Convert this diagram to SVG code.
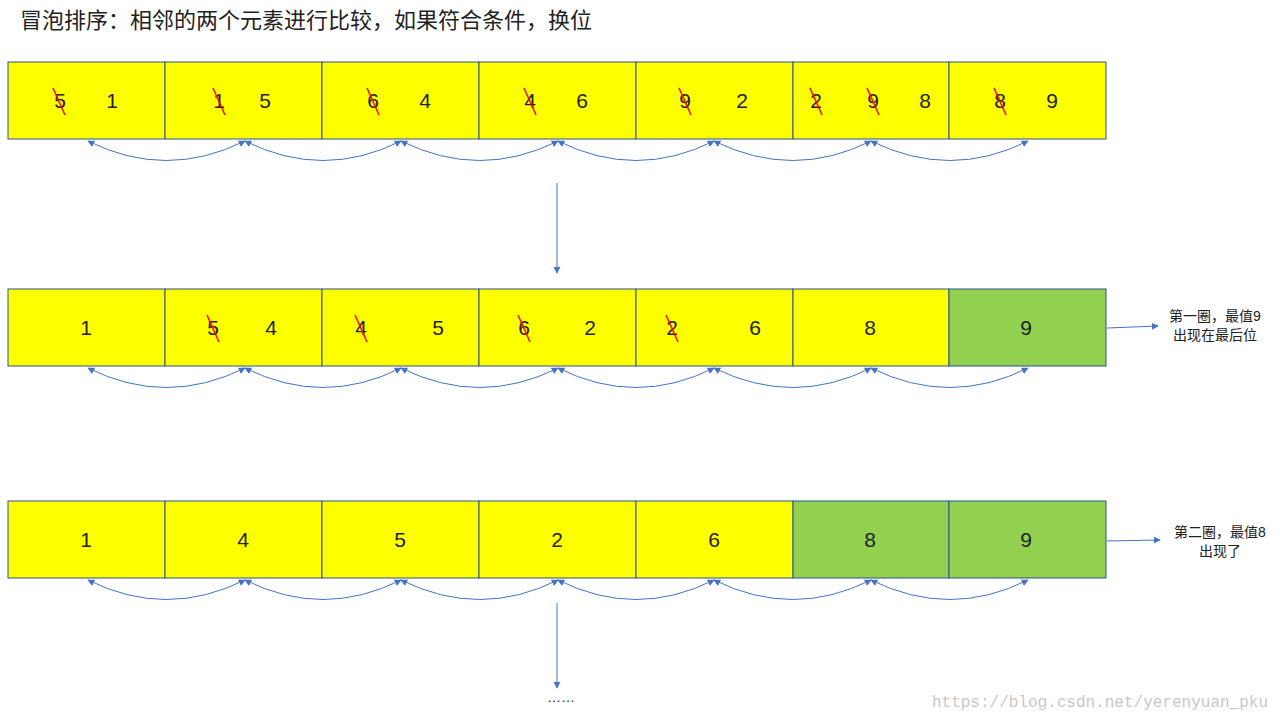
<svg xmlns="http://www.w3.org/2000/svg" width="1280" height="720" viewBox="0 0 1280 720">
<style>
.c{fill:#ffff00;stroke:#2f528f;stroke-width:1}
.g{fill:#92d050;stroke:#2f528f;stroke-width:1}
.t{font-family:"Liberation Sans","Noto Sans CJK SC",sans-serif;font-size:21px;fill:#222;text-anchor:middle}
.s{stroke:#ff0000;stroke-width:1.5}
.a{fill:none;stroke:#4472c4;stroke-width:1;marker-start:url(#h);marker-end:url(#h)}
.l{fill:none;stroke:#4472c4;stroke-width:1;marker-end:url(#h)}
.n{font-family:"Liberation Sans","Noto Sans CJK SC",sans-serif;font-size:14px;fill:#222;text-anchor:middle}
</style>
<defs>
<marker id="h" viewBox="0 0 10 10" refX="9" refY="5" markerWidth="7" markerHeight="7" orient="auto-start-reverse" markerUnits="userSpaceOnUse"><path d="M0,0L10,5L0,10z" fill="#4472c4"/></marker>
<g id="arcs">
<path class="a" d="M88,141 Q166,180 245,141"/><path class="a" d="M245,141 Q323,180 401,141"/><path class="a" d="M401,141 Q480,180 558,141"/><path class="a" d="M558,141 Q636,180 714,141"/><path class="a" d="M714,141 Q793,180 871,141"/><path class="a" d="M871,141 Q950,180 1028,141"/>
</g>
</defs>
<rect width="1280" height="720" fill="#fff"/>
<text x="20" y="28" font-family="'Liberation Sans','Noto Sans CJK SC',sans-serif" font-size="22" fill="#222">冒泡排序：相邻的两个元素进行比较，如果符合条件，换位</text>
<g id="row1">
<rect class="c" x="8" y="62" width="157" height="77"/><rect class="c" x="165" y="62" width="157" height="77"/><rect class="c" x="322" y="62" width="157" height="77"/><rect class="c" x="479" y="62" width="157" height="77"/><rect class="c" x="636" y="62" width="157" height="77"/><rect class="c" x="793" y="62" width="156" height="77"/><rect class="c" x="949" y="62" width="157" height="77"/>
<g class="t"><text x="60" y="108">5</text><text x="112" y="108">1</text><text x="219" y="108">1</text><text x="265" y="108">5</text><text x="373" y="108">6</text><text x="425" y="108">4</text><text x="530" y="108">4</text><text x="582" y="108">6</text><text x="685" y="108">9</text><text x="742" y="108">2</text><text x="816" y="108">2</text><text x="873" y="108">9</text><text x="925" y="108">8</text><text x="1000" y="108">8</text><text x="1052" y="108">9</text></g>
<g class="s"><line x1="53" y1="88" x2="65" y2="115"/><line x1="213" y1="88" x2="225" y2="115"/><line x1="367" y1="88" x2="379" y2="115"/><line x1="524" y1="88" x2="536" y2="115"/><line x1="679" y1="88" x2="691" y2="115"/><line x1="810" y1="88" x2="822" y2="115"/><line x1="867" y1="88" x2="879" y2="115"/><line x1="994" y1="88" x2="1006" y2="115"/></g>
</g>
<g id="row2">
<rect class="c" x="8" y="289" width="157" height="77"/><rect class="c" x="165" y="289" width="157" height="77"/><rect class="c" x="322" y="289" width="157" height="77"/><rect class="c" x="479" y="289" width="157" height="77"/><rect class="c" x="636" y="289" width="157" height="77"/><rect class="c" x="793" y="289" width="156" height="77"/><rect class="g" x="949" y="289" width="157" height="77"/>
<g class="t"><text x="86" y="335">1</text><text x="213" y="335">5</text><text x="271" y="335">4</text><text x="361" y="335">4</text><text x="438" y="335">5</text><text x="524" y="335">6</text><text x="590" y="335">2</text><text x="672" y="335">2</text><text x="755" y="335">6</text><text x="870" y="335">8</text><text x="1026" y="335">9</text></g>
<g class="s"><line x1="207" y1="315" x2="219" y2="342"/><line x1="355" y1="315" x2="367" y2="342"/><line x1="518" y1="315" x2="530" y2="342"/><line x1="666" y1="315" x2="678" y2="342"/></g>
</g>
<g id="row3">
<rect class="c" x="8" y="501" width="157" height="77"/><rect class="c" x="165" y="501" width="157" height="77"/><rect class="c" x="322" y="501" width="157" height="77"/><rect class="c" x="479" y="501" width="157" height="77"/><rect class="c" x="636" y="501" width="157" height="77"/><rect class="g" x="793" y="501" width="156" height="77"/><rect class="g" x="949" y="501" width="157" height="77"/>
<g class="t"><text x="86" y="547">1</text><text x="243" y="547">4</text><text x="400" y="547">5</text><text x="557" y="547">2</text><text x="714" y="547">6</text><text x="870" y="547">8</text><text x="1026" y="547">9</text></g>
</g>
<g id="connectors">
<use href="#arcs"/><use href="#arcs" y="227"/><use href="#arcs" y="439"/>
<line class="l" x1="557" y1="183" x2="557" y2="273"/>
<line class="l" x1="557" y1="603" x2="557" y2="688"/>
<line class="l" x1="1107" y1="328" x2="1158" y2="326"/>
<line class="l" x1="1107" y1="541" x2="1160" y2="540"/>
</g>
<g id="labels">
<text class="n" x="1215" y="321">第一圈，最值9</text><text class="n" x="1215" y="340">出现在最后位</text>
<text class="n" x="1220" y="537">第二圈，最值8</text><text class="n" x="1220" y="556">出现了</text>
<text class="n" x="561" y="702">……</text>
</g>
<text x="1268" y="707" text-anchor="end" font-family="'Liberation Mono',monospace" font-size="16" fill="#c8c8c8">https://blog.csdn.net/yerenyuan_pku</text>
</svg>
